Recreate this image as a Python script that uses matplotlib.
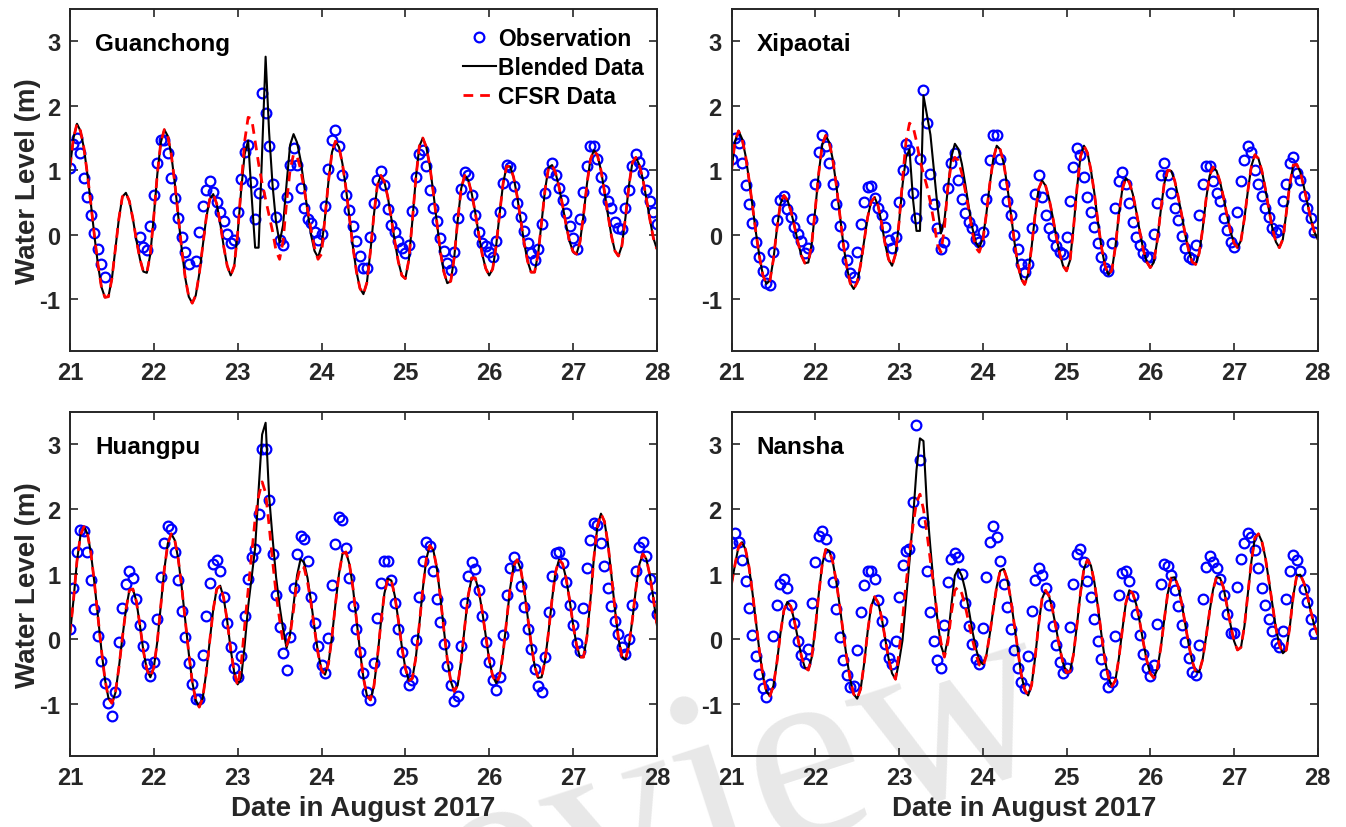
import numpy as np
import matplotlib.pyplot as plt

nan = np.nan

# hourly water levels (m) starting 21 Aug 2017 00:00
stations = ["Guanchong", "Xipaotai", "Huangpu", "Nansha"]

gc_obs = [1.03, 1.40, 1.50, 1.27, 0.88, 0.59, 0.30, 0.02, -0.22, -0.45,
          -0.65, nan, nan, nan, nan, nan, nan, nan, nan, nan,
          -0.03, -0.19, -0.23, 0.13, 0.61, 1.11, 1.47, 1.47, 1.27, 0.88,
          0.57, 0.26, -0.03, -0.26, -0.45, nan, -0.41, 0.04, 0.45, 0.70,
          0.83, 0.67, 0.51, 0.35, 0.21, 0.01, -0.12, -0.08, 0.35, 0.86,
          1.28, 1.39, 0.82, 0.25, 0.65, 2.20, 1.89, 1.37, 0.78, 0.28,
          -0.08, -0.16, 0.59, 1.08, 1.35, 1.08, 0.73, 0.41, 0.24, 0.19,
          0.04, -0.08, 0.01, 0.44, 1.02, 1.47, 1.63, 1.38, 0.93, 0.62,
          0.38, 0.13, -0.09, -0.33, -0.52, -0.52, -0.04, 0.49, 0.85, 0.99,
          0.77, 0.40, 0.15, 0.04, -0.10, -0.20, -0.29, -0.16, 0.37, 0.89,
          1.25, 1.31, 1.07, 0.69, 0.41, 0.21, -0.05, -0.25, -0.43, -0.55,
          -0.26, 0.26, 0.71, 0.97, 0.93, 0.61, 0.30, 0.04, -0.13, -0.17,
          -0.26, -0.34, -0.09, 0.35, 0.80, 1.08, 1.05, 0.76, 0.49, 0.28,
          0.06, -0.12, -0.28, -0.39, -0.22, 0.16, 0.64, 0.97, 1.11, 0.93,
          0.72, 0.54, 0.33, 0.14, -0.05, -0.22, 0.25, 0.67, 1.06, 1.38,
          1.37, 1.18, 0.89, 0.70, 0.53, 0.41, 0.20, 0.11, 0.09, 0.42,
          0.69, 1.06, 1.25, 1.12, 0.96, 0.69, 0.52, 0.36, 0.17]
gc_blend = [1.05, 1.50, 1.72, 1.61, 1.34, 0.93, 0.47, -0.02, -0.46, -0.81,
            -0.97, -0.96, -0.68, -0.22, 0.25, 0.59, 0.65, 0.52, 0.25, -0.08,
            -0.37, -0.57, -0.59, -0.30, 0.29, 0.94, 1.43, 1.63, 1.53, 1.24,
            0.80, 0.29, -0.23, -0.67, -0.96, -1.06, -0.94, -0.61, -0.17, 0.26,
            0.55, 0.63, 0.48, 0.18, -0.18, -0.48, -0.63, -0.49, 0.02, 0.69,
            1.25, 1.46, 0.60, -0.20, -0.20, 1.30, 2.76, 1.59, 0.76, 0.19,
            -0.12, 0.15, 0.79, 1.39, 1.56, 1.43, 1.16, 0.78, 0.36, 0.00,
            -0.25, -0.35, -0.18, 0.27, 0.83, 1.28, 1.45, 1.36, 1.10, 0.72,
            0.27, -0.19, -0.57, -0.83, -0.92, -0.74, -0.26, 0.31, 0.77, 0.92,
            0.82, 0.58, 0.25, -0.11, -0.42, -0.63, -0.68, -0.39, 0.21, 0.87,
            1.37, 1.50, 1.36, 1.07, 0.66, 0.21, -0.25, -0.57, -0.75, -0.72,
            -0.35, 0.23, 0.72, 0.92, 0.85, 0.64, 0.35, 0.01, -0.30, -0.52,
            -0.63, -0.53, -0.17, 0.33, 0.80, 1.06, 1.06, 0.89, 0.60, 0.24,
            -0.12, -0.41, -0.58, -0.58, -0.30, 0.19, 0.70, 1.04, 1.08, 0.96,
            0.74, 0.46, 0.16, -0.10, -0.26, -0.30, -0.11, 0.30, 0.79, 1.17,
            1.31, 1.23, 1.00, 0.67, 0.31, -0.02, -0.25, -0.33, -0.17, 0.26,
            0.76, 1.12, 1.20, 1.08, 0.86, 0.56, 0.24, -0.05, -0.22]
# CFSR run only departs from the blended run around the typhoon (hours 47-72)
gc_cfsr = [-0.49, 0.02, 0.75, 1.45, 1.82, 1.80, 1.45, 1.10, 0.80, 0.55,
           0.30, 0.05, -0.25, -0.38, -0.10, 0.50, 1.00, 1.25, 1.22, 1.02,
           0.72, 0.40, 0.08, -0.20, -0.38, -0.30]

xp_obs = [1.18, 1.50, 1.42, 1.11, 0.77, 0.48, 0.18, -0.11, -0.35, -0.56,
          -0.74, -0.78, -0.26, 0.23, 0.54, 0.60, 0.40, 0.28, 0.12, 0.01,
          -0.10, -0.29, -0.21, 0.25, 0.78, 1.29, 1.55, 1.38, 1.11, 0.78,
          0.47, 0.14, -0.16, -0.39, -0.59, -0.66, -0.26, 0.17, 0.51, 0.74,
          0.76, 0.57, 0.42, 0.30, 0.12, -0.08, -0.20, -0.04, 0.51, 1.01,
          1.40, 1.31, 0.64, 0.26, 1.18, 2.25, 1.73, 0.94, 0.47, 0.10,
          -0.22, -0.11, 0.72, 1.11, 1.26, 0.85, 0.55, 0.33, 0.20, 0.10,
          -0.06, -0.11, 0.04, 0.56, 1.16, 1.55, 1.55, 1.18, 0.79, 0.53,
          0.30, 0.00, -0.22, -0.45, -0.58, -0.46, 0.11, 0.63, 0.93,
          0.59, 0.31, 0.11, -0.02, -0.17, -0.26, -0.30, -0.03, 0.53, 1.05, 1.34,
          1.23, 0.89, 0.58, 0.36, 0.12, -0.13, -0.35, -0.51, -0.56, -0.13,
          0.42, 0.83, 0.98, 0.79, 0.49, 0.20, -0.03, -0.16, -0.28, -0.35,
          -0.34, 0.01, 0.50, 0.93, 1.11, 0.92, 0.64, 0.42, 0.23, -0.02,
          -0.20, -0.34, -0.38, -0.16, 0.31, 0.78, 1.06, 1.06, 0.84, 0.64,
          0.52, 0.26, 0.08, -0.11, -0.19, 0.36, 0.83, 1.16, 1.38, 1.28,
          1.01, 0.79, 0.60, 0.41, 0.28, 0.10, 0.04, 0.08, 0.52, 0.78,
          1.11, 1.20, 0.96, 0.85, 0.60, 0.41, 0.26, 0.05]
xp_blend = [1.00, 1.45, 1.61, 1.49, 1.23, 0.86, 0.45, 0.03, -0.34, -0.63,
            -0.76, -0.71, -0.38, 0.09, 0.48, 0.61, 0.54, 0.37, 0.14, -0.11,
            -0.32, -0.44, -0.43, -0.13, 0.40, 0.96, 1.40, 1.54, 1.43, 1.17,
            0.78, 0.33, -0.13, -0.49, -0.75, -0.84, -0.74, -0.46, -0.09, 0.27,
            0.51, 0.58, 0.45, 0.18, -0.14, -0.38, -0.48, -0.30, 0.19, 0.77,
            1.20, 1.32, 0.55, 0.06, 0.06, 2.16, 1.85, 1.55, 1.00, 0.45,
            0.02, 0.22, 0.72, 1.21, 1.41, 1.33, 1.10, 0.78, 0.43, 0.11,
            -0.12, -0.20, -0.06, 0.31, 0.78, 1.17, 1.38, 1.32, 1.11, 0.76,
            0.35, -0.08, -0.45, -0.68, -0.77, -0.61, -0.19, 0.31, 0.71, 0.84,
            0.76, 0.56, 0.29, -0.01, -0.28, -0.48, -0.56, -0.40, 0.10, 0.72,
            1.21, 1.38, 1.27, 1.00, 0.64, 0.20, -0.19, -0.47, -0.62, -0.55,
            -0.19, 0.31, 0.71, 0.88, 0.81, 0.63, 0.36, 0.05, -0.23, -0.42,
            -0.51, -0.43, -0.09, 0.37, 0.79, 1.00, 0.99, 0.84, 0.59, 0.31,
            0.01, -0.24, -0.42, -0.46, -0.29, 0.08, 0.55, 0.91, 1.05, 0.99,
            0.82, 0.58, 0.30, 0.05, -0.13, -0.20, -0.09, 0.26, 0.69, 1.07,
            1.24, 1.18, 0.99, 0.71, 0.39, 0.10, -0.11, -0.20, -0.07, 0.34,
            0.79, 1.08, 1.09, 0.97, 0.75, 0.50, 0.25, 0.05, -0.07]
xp_cfsr = [-0.30, 0.19, 0.85, 1.45, 1.73, 1.68, 1.45, 1.15, 0.95, 0.75,
           0.50, 0.20, -0.15, -0.27, 0.10, 0.75, 1.10, 1.20, 1.15, 0.95,
           0.68, 0.38, 0.05, -0.20, -0.27, -0.10]

hp_obs = [0.15, 0.78, 1.34, 1.68, 1.66, 1.34, 0.91, 0.46, 0.05, -0.34,
          -0.68, -0.99, -1.19, -0.81, -0.05, 0.47, 0.85, 1.04, 0.94, 0.62,
          0.22, -0.11, -0.39, -0.57, -0.36, 0.30, 0.95, 1.48, 1.74, 1.69,
          1.34, 0.91, 0.43, 0.03, -0.37, -0.69, -0.92, -0.92, -0.25, 0.36,
          0.86, 1.16, 1.22, 1.04, 0.65, 0.24, -0.13, -0.45, -0.58, -0.27,
          0.36, 0.93, 1.27, 1.39, 1.93, 2.93, 2.93, 2.14, 1.31, 0.68,
          0.18, -0.22, -0.48, 0.03, 0.79, 1.31, 1.58, 1.54, 1.20, 0.65,
          0.24, -0.11, -0.40, -0.53, 0.01, 0.83, 1.46, 1.88, 1.84, 1.40,
          0.94, 0.51, 0.16, -0.20, -0.52, -0.81, -0.94,
          -0.37, 0.33, 0.86, 1.20, 1.20, 0.91, 0.55, 0.16, -0.20, -0.49, -0.71, -0.64, -0.01,
          0.65, 1.20, 1.49, 1.43, 1.04, 0.62, 0.26, -0.08, -0.41, -0.71,
          -0.95, -0.88, -0.11, 0.55, 0.97, 1.19, 1.08, 0.76, 0.35, -0.04,
          -0.36, -0.63, -0.79, -0.58, 0.06, 0.67, 1.10, 1.27, 1.14, 0.81,
          0.49, 0.15, -0.16, -0.46, -0.72, -0.81, -0.28, 0.41, 0.97, 1.32,
          1.34, 1.17, 0.87, 0.53, 0.22, -0.06, -0.18, 0.48, 1.09, 1.53,
          1.79, 1.76, 1.48, 1.13, 0.78, 0.51, 0.28, 0.07, -0.12, -0.23,
          0.00, 0.52, 1.05, 1.41, 1.50, 1.28, 0.92, 0.64, 0.38]
hp_blend = [0.08, 0.60, 1.20, 1.60, 1.73, 1.62, 1.32, 0.86, 0.34, -0.17,
            -0.62, -0.91, -0.99, -0.83, -0.44, 0.02, 0.45, 0.75, 0.77, 0.58,
            0.22, -0.18, -0.47, -0.59, -0.44, -0.04, 0.52, 1.07, 1.47, 1.62,
            1.52, 1.23, 0.79, 0.29, -0.22, -0.66, -0.94, -1.05, -0.91, -0.52,
            -0.03, 0.45, 0.77, 0.82, 0.63, 0.28, -0.16, -0.51, -0.70, -0.60,
            -0.10, 0.50, 0.95, 1.40, 2.30, 3.15, 3.33, 2.20, 1.55, 0.95,
            0.51, 0.15, -0.14, 0.07, 0.52, 0.98, 1.23, 1.18, 0.94, 0.58,
            0.17, -0.21, -0.47, -0.55, -0.38, 0.04, 0.54, 1.00, 1.31, 1.34,
            1.15, 0.79, 0.30, -0.18, -0.60, -0.87, -0.94, -0.73, -0.29, 0.25,
            0.70, 0.93, 0.90, 0.66, 0.29, -0.12, -0.45, -0.64, -0.61, -0.29,
            0.22, 0.77, 1.23, 1.44, 1.37, 1.10, 0.66, 0.16, -0.31, -0.65,
            -0.81, -0.71, -0.33, 0.19, 0.67, 0.94, 0.94, 0.75, 0.43, 0.05,
            -0.32, -0.57, -0.68, -0.57, -0.21, 0.29, 0.78, 1.13, 1.22, 1.08,
            0.77, 0.35, -0.07, -0.41, -0.60, -0.59, -0.33, 0.11, 0.61, 1.03,
            1.22, 1.16, 0.94, 0.61, 0.23, -0.09, -0.28, -0.28, 0.04, 0.61,
            1.26, 1.74, 1.93, 1.81, 1.47, 0.98, 0.46, 0.01, -0.27, -0.32,
            -0.11, 0.30, 0.77, 1.15, 1.31, 1.23, 0.98, 0.63, 0.22]
hp_cfsr = [-0.51, -0.72, -0.40, 0.20, 0.75, 1.30, 1.85, 2.20, 2.42, 2.25,
           1.75, 1.20, 0.70, 0.30, -0.05, -0.10, 0.05, 0.45, 0.90, 1.12,
           1.10, 0.88, 0.55, 0.15, -0.22, -0.48]

ns_obs = [1.48, 1.63, 1.50, 1.22, 0.90, 0.47, 0.06, -0.26, -0.54, -0.76,
          -0.90, -0.69, 0.05, 0.53, 0.84, 0.92, 0.79, 0.53, 0.24, -0.03,
          -0.24, -0.37, -0.16, 0.56, 1.18, 1.58, 1.67, 1.54, 1.28, 0.88,
          0.46, 0.03, -0.33, -0.56, -0.74, -0.73, -0.17, 0.41, 0.83, 1.05,
          1.05, 0.93, 0.60, 0.27, -0.08, -0.30, -0.39, -0.03, 0.64, 1.14,
          1.36, 1.38, 2.11, 3.30, 2.76, 1.80, 1.05, 0.41, -0.03, -0.33,
          -0.44, 0.21, 0.87, 1.23, 1.33, 1.27, 1.00, 0.56, 0.20, -0.08,
          -0.31, -0.39, 0.17, 0.96, 1.49, 1.74, 1.57, 1.20, 0.85, 0.49,
          0.15, -0.17, -0.44, -0.66, -0.76, -0.26, 0.43, 0.91, 1.10, 0.98,
          0.78, 0.53, 0.20, -0.10, -0.36, -0.52, -0.44, 0.18, 0.84, 1.31,
          1.38, 1.18, 0.89, 0.65, 0.31, -0.03, -0.31, -0.54, -0.74, -0.66,
          0.04, 0.68, 1.02, 1.05, 0.89, 0.66, 0.39, 0.06, -0.23, -0.45,
          -0.57, -0.40, 0.23, 0.84, 1.15, 1.13, 0.98, 0.76, 0.51, 0.21,
          -0.04, -0.30, -0.51, -0.56, -0.09, 0.61, 1.11, 1.28, 1.18, 1.10,
          0.92, 0.67, 0.38, 0.09, 0.09, 0.80, 1.23, 1.48, 1.63, 1.57,
          1.37, 1.09, 0.79, 0.53, 0.30, 0.12, -0.06, -0.12, 0.13, 0.61,
          1.05, 1.30, 1.22, 1.04, 0.77, 0.57, 0.31, 0.09]
ns_blend = [0.85, 1.15, 1.42, 1.49, 1.38, 1.11, 0.71, 0.26, -0.19, -0.57,
            -0.81, -0.88, -0.72, -0.36, 0.08, 0.44, 0.57, 0.50, 0.28, 0.01,
            -0.26, -0.44, -0.48, -0.28, 0.16, 0.70, 1.15, 1.38, 1.36, 1.19,
            0.89, 0.51, 0.10, -0.29, -0.62, -0.85, -0.92, -0.77, -0.38, 0.11,
            0.50, 0.65, 0.56, 0.33, 0.02, -0.30, -0.53, -0.62, -0.35, -0.02,
            0.60, 1.20, 1.85, 2.60, 3.09, 3.05, 2.05, 1.40, 0.80, 0.30,
            -0.10, -0.26, 0.01, 0.52, 0.98, 1.08, 0.97, 0.75, 0.45, 0.13,
            -0.14, -0.33, -0.39, -0.26, 0.07, 0.45, 0.81, 1.05, 1.08, 0.92,
            0.62, 0.23, -0.17, -0.54, -0.78, -0.87, -0.71, -0.29, 0.22, 0.62,
            0.75, 0.66, 0.45, 0.17, -0.13, -0.37, -0.52, -0.50, -0.24, 0.22,
            0.71, 1.08, 1.22, 1.13, 0.87, 0.50, 0.07, -0.32, -0.59, -0.73,
            -0.64, -0.30, 0.14, 0.55, 0.75, 0.70, 0.53, 0.26, -0.05, -0.33,
            -0.53, -0.60, -0.47, -0.14, 0.29, 0.70, 0.94, 0.95, 0.81, 0.55,
            0.24, -0.08, -0.34, -0.50, -0.51, -0.32, 0.03, 0.42, 0.76, 0.95,
            0.94, 0.79, 0.51, 0.22, -0.03, -0.17, -0.13, 0.20, 0.71, 1.20,
            1.56, 1.62, 1.50, 1.25, 0.90, 0.53, 0.17, -0.09, -0.22, -0.17,
            0.19, 0.67, 0.98, 0.99, 0.87, 0.67, 0.43, 0.21, 0.06]
ns_cfsr = [-0.62, -0.20, 0.30, 0.85, 1.30, 1.75, 2.10, 2.23, 2.00, 1.63,
           1.20, 0.80, 0.35, -0.05, -0.28, -0.05, 0.40, 0.75, 0.80, 0.70,
           0.50, 0.25, 0.00, -0.22, -0.40, -0.44]
storm_start = 47  # hour index where the *_cfsr segments begin

obs_all = [gc_obs, xp_obs, hp_obs, ns_obs]
blend_all = [gc_blend, xp_blend, hp_blend, ns_blend]
cfsr_all = [gc_cfsr, xp_cfsr, hp_cfsr, ns_cfsr]

plt.rcParams['font.family'] = ['Liberation Sans', 'DejaVu Sans']
plt.rcParams['font.weight'] = 'bold'
plt.rcParams['axes.labelweight'] = 'bold'
plt.rcParams['axes.unicode_minus'] = False

fig = plt.figure(figsize=(13.46, 8.28), dpi=100)

# faint watermark behind the panels
fig.text(0.47, 0.0, "Preview", fontsize=190, family='Liberation Serif', fontweight='normal',
         color='#e8e8e8', rotation=18, ha='center', va='center', zorder=-5)

boxes = [[0.052, 0.575, 0.436, 0.413],
         [0.5435, 0.575, 0.4355, 0.413],
         [0.052, 0.086, 0.436, 0.4155],
         [0.5435, 0.086, 0.4355, 0.4155]]

for i in range(4):
    ax = fig.add_axes(boxes[i])
    ax.set_facecolor('none')

    obs = np.array(obs_all[i], dtype=float)
    blend = np.array(blend_all[i], dtype=float)
    cfsr = blend.copy()
    seg = cfsr_all[i]
    cfsr[storm_start:storm_start + len(seg)] = seg

    t_obs = 21 + np.arange(len(obs)) / 24.0
    t_mod = 21 + np.arange(len(blend)) / 24.0

    ax.plot(t_obs, obs, 'o', mfc='none', mec='blue', ms=7, mew=1.6, label='Observation')
    ax.plot(t_mod, blend, '-', color='black', lw=1.5, label='Blended Data')
    ax.plot(t_mod, cfsr, color='red', lw=2.0, ls=(0, (3.5, 2.5)), label='CFSR Data')

    ax.set_xlim(21, 28)
    ax.set_ylim(-1.8, 3.5)
    ax.set_xticks(range(21, 29))
    ax.set_yticks([-1, 0, 1, 2, 3])
    ax.tick_params(direction='in', length=6, width=1.2, top=True, right=True,
                   labelsize=17, pad=7, colors='#262626')
    for s in ax.spines.values():
        s.set_linewidth(1.4)
        s.set_color('#262626')

    ax.text(0.043, 0.9, stations[i], transform=ax.transAxes, fontsize=17.5,
            fontweight='bold', va='center', ha='left')

    if i % 2 == 0:
        ax.set_ylabel('Water Level (m)', fontsize=20, labelpad=-1, color='#262626')
    if i >= 2:
        ax.set_xlabel('Date in August 2017', fontsize=20, labelpad=5, color='#262626')
    if i == 0:
        ax.legend(loc='upper right', bbox_to_anchor=(0.993, 0.975), frameon=False,
                  fontsize=16.5, handlelength=1.4, handletextpad=0.1,
                  labelspacing=0.28, borderaxespad=0, numpoints=1)

fig.savefig('out.png', dpi=100)
